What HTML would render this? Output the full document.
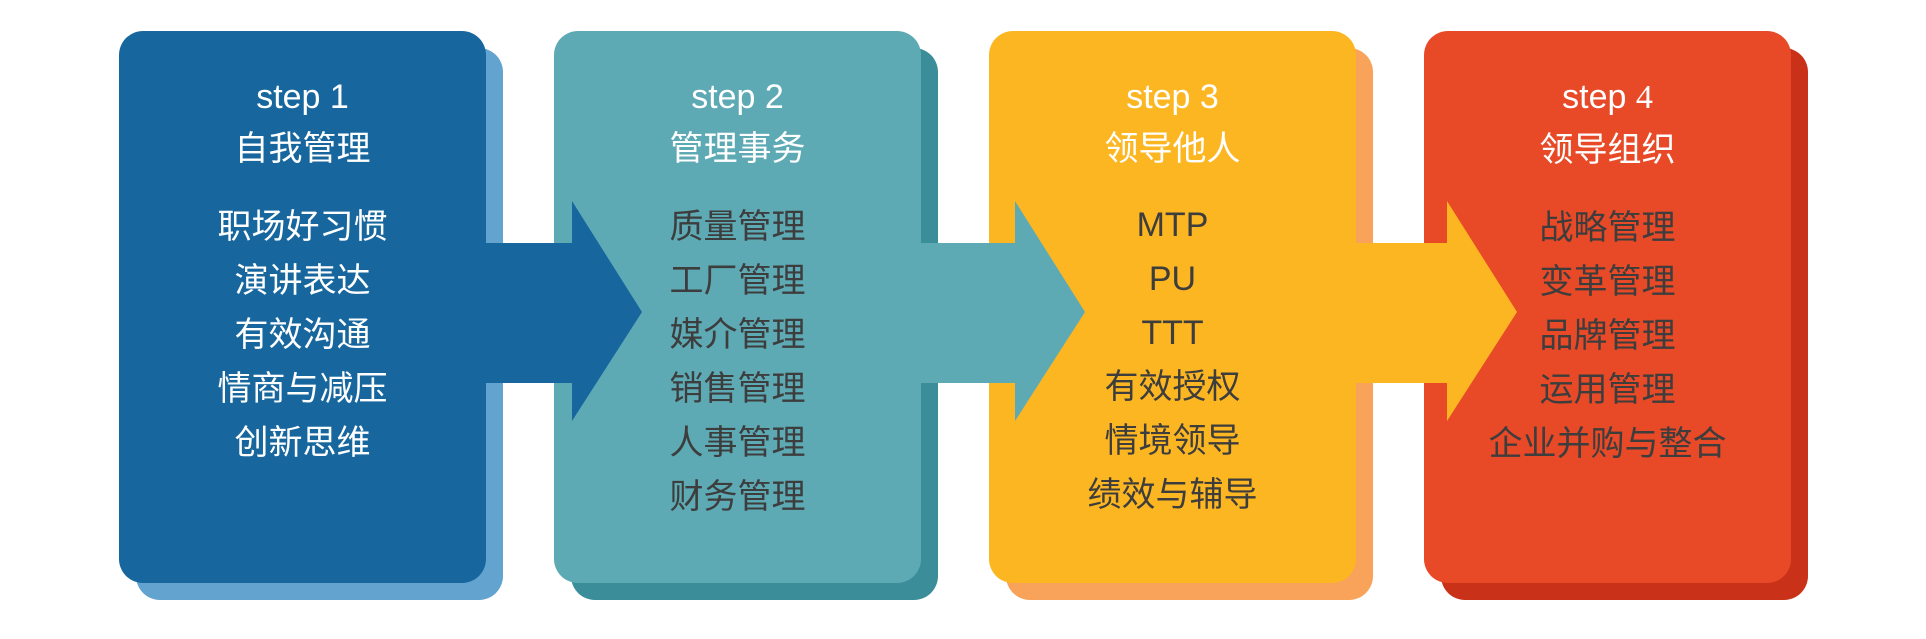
<!DOCTYPE html>
<html><head><meta charset="utf-8"><style>
body{margin:0;width:1926px;height:639px;background:#fff;overflow:hidden;position:relative;font-family:"Liberation Sans","Noto Sans CJK SC",sans-serif}
.b{position:absolute;width:367px;height:552px;border-radius:24px;top:31px}
.s{top:48px}
.t{position:absolute;width:367px;top:31px;text-align:center;color:#fff}
.h{font-size:34px;line-height:40px}
.st{margin-top:46px}
.ti{margin-top:12px}
.it{margin-top:31px;font-size:34px;line-height:54px;color:#3d3d3d}
svg{position:absolute;left:0;top:0}
</style></head><body>
<div class="b s" style="left:136px;background:#62a4cf"></div>
<div class="b" style="left:119px;background:#17679e"></div>
<div class="b s" style="left:571px;background:#3a8d99"></div>
<div class="b" style="left:554px;background:#5daab5"></div>
<div class="b s" style="left:1006px;background:#f8a25a"></div>
<div class="b" style="left:989px;background:#fcb621"></div>
<div class="b s" style="left:1441px;background:#c93218"></div>
<div class="b" style="left:1424px;background:#e84927"></div>
<svg width="1926" height="639">
<polygon points="486,243 572,243 572,201 642,312 572,421 572,383 486,383" fill="#17679e"/>
<polygon points="921,243 1015,243 1015,201 1085,312 1015,421 1015,383 921,383" fill="#5daab5"/>
<polygon points="1356,243 1447,243 1447,201 1517,312 1447,421 1447,383 1356,383" fill="#fcb621"/>
</svg>
<div class="t" style="left:119px"><div class="h st">step 1</div><div class="h ti">自我管理</div><div class="it" style="color:#fff">职场好习惯<br>演讲表达<br>有效沟通<br>情商与减压<br>创新思维</div></div>
<div class="t" style="left:554px"><div class="h st">step 2</div><div class="h ti">管理事务</div><div class="it">质量管理<br>工厂管理<br>媒介管理<br>销售管理<br>人事管理<br>财务管理</div></div>
<div class="t" style="left:989px"><div class="h st">step 3</div><div class="h ti">领导他人</div><div class="it" style="margin-top:29px">MTP<br>PU<br>TTT<br>有效授权<br>情境领导<br>绩效与辅导</div></div>
<div class="t" style="left:1424px"><div class="h st">step <span style="font-family:'Liberation Serif',serif">4</span></div><div class="h ti">领导组织</div><div class="it">战略管理<br>变革管理<br>品牌管理<br>运用管理<br>企业并购与整合</div></div>
</body></html>
